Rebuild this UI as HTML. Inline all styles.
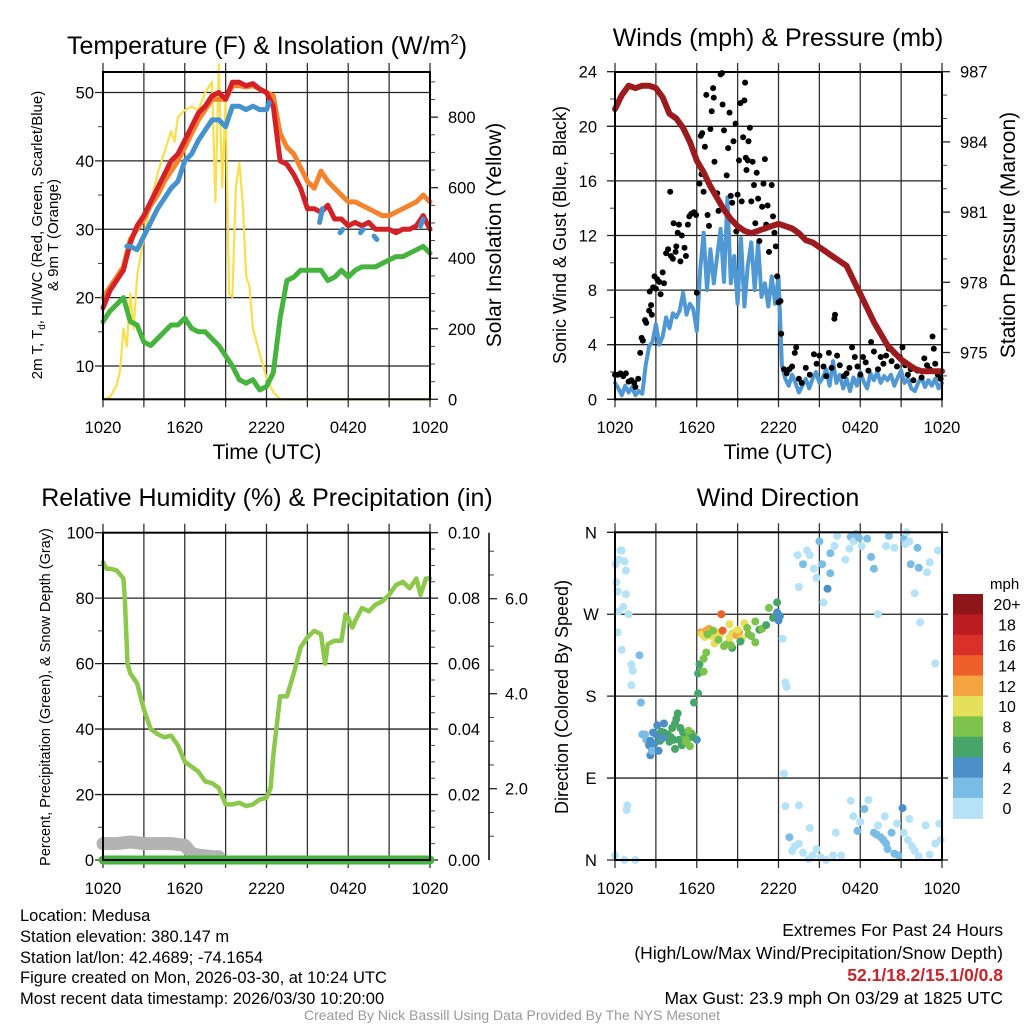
<!DOCTYPE html>
<html><head><meta charset="utf-8"><style>
html,body{margin:0;padding:0;background:#fff}
svg{display:block;font-family:"Liberation Sans",Arial,sans-serif}
</style></head><body>
<svg id="chart" width="1024" height="1024" viewBox="0 0 1024 1024" xmlns="http://www.w3.org/2000/svg">
<rect width="1024" height="1024" fill="#fff"/>
<g id="layer-grid"></g>
<g id="layer-data"></g>
<g id="layer-frame"></g>
<g id="layer-text" fill="#000">
<text x="267" y="54" font-size="25" text-anchor="middle">Temperature (F) &amp; Insolation (W/m<tspan font-size="15" dy="-10">2</tspan><tspan dy="10">)</tspan></text>
<text x="778" y="46" font-size="25" text-anchor="middle">Winds (mph) &amp; Pressure (mb)</text>
<text x="267" y="506" font-size="25" text-anchor="middle">Relative Humidity (%) &amp; Precipitation (in)</text>
<text x="778" y="506" font-size="25" text-anchor="middle">Wind Direction</text>
<text x="267" y="459" font-size="21" text-anchor="middle">Time (UTC)</text>
<text x="778" y="459" font-size="21" text-anchor="middle">Time (UTC)</text>
<text transform="translate(42,235) rotate(-90)" font-size="15" text-anchor="middle">2m T, T<tspan font-size="10" dy="3">d</tspan><tspan dy="-3">, HI/WC (Red, Green, Scarlet/Blue)</tspan></text>
<text transform="translate(58,235) rotate(-90)" font-size="15" text-anchor="middle">&amp; 9m T (Orange)</text>
<text transform="translate(501,235) rotate(-90)" font-size="21" text-anchor="middle">Solar Insolation (Yellow)</text>
<text transform="translate(566,235) rotate(-90)" font-size="18" text-anchor="middle">Sonic Wind &amp; Gust (Blue, Black)</text>
<text transform="translate(1015,235) rotate(-90)" font-size="21" text-anchor="middle">Station Pressure (Maroon)</text>
<text transform="translate(50,697) rotate(-90)" font-size="14.5" text-anchor="middle">Percent, Precipitation (Green), &amp; Snow Depth (Gray)</text>
<text transform="translate(568,697) rotate(-90)" font-size="18" text-anchor="middle">Direction (Colored By Speed)</text>
<text x="990" y="589" font-size="15">mph</text>
<g font-size="16.5">
<text x="20" y="921">Location: Medusa</text>
<text x="20" y="942">Station elevation: 380.147 m</text>
<text x="20" y="963">Station lat/lon: 42.4689; -74.1654</text>
<text x="20" y="983">Figure created on Mon, 2026-03-30, at 10:24 UTC</text>
<text x="20" y="1004">Most recent data timestamp: 2026/03/30 10:20:00</text>
</g>
<g font-size="17.5" text-anchor="end">
<text x="1003" y="936">Extremes For Past 24 Hours</text>
<text x="1003" y="959">(High/Low/Max Wind/Precipitation/Snow Depth)</text>
<text x="1003" y="981" fill="#cc2229" font-weight="bold">52.1/18.2/15.1/0/0.8</text>
<text x="1003" y="1004">Max Gust: 23.9 mph On 03/29 at 1825 UTC</text>
</g>
<text x="512" y="1020" font-size="14" fill="#999" text-anchor="middle">Created By Nick Bassill Using Data Provided By The NYS Mesonet</text>
</g>
</svg>
<script>
// ---------- data ----------
const xTickLabels=["1020","1620","2220","0420","1020"];
const tempHours=[0,0.5,1,1.5,2,2.5,3,3.5,4,4.5,5,5.5,6,6.5,7,7.5,8,8.5,9,9.5,10,10.5,11,11.5,12,12.5,13,13.5,14,14.5,15,15.5,16,16.5,17,17.5,18,18.5,19,19.5,20,20.5,21,21.5,22,22.5,23,23.5,24];
const tempRed=[18.5,21,22.5,24,28,30.5,32,34,36,38,40,41,43,45,47,48,49.5,50,49,51.5,51.5,51,51.3,50.5,50,48,40,39.5,38,36,33,33,32.5,33.5,31.5,31.5,30.5,31,30.5,31,30,30,30,29.5,30,30,30.5,32,30];
const tempOrange=[20,21.5,23,24.5,28.5,30,31.5,33.5,35,37,38.5,40,42,44,46,47.5,49,49,49,51,51,50.8,51,50.5,50,49.5,44,42,41,39,37,36,38.5,37,36,35,34,34,33.5,33,32.5,32,32,32.5,33,33.5,34,35,34];
const tempDew=[16.5,18,19,20,16.5,16,13.5,13,14,15,16,16,17,15.5,15,15,14,13,11.5,10,8,7.5,8,6.5,7,9,17,22.5,23,24,24,24,24,22.5,23,24,23,24,24.5,24.5,24.5,25,25.5,26,26,26.5,27,27.5,26.5];
const hiwcHours=[1.75,2,2.5,3,3.5,4,4.5,5,5.5,6,6.5,7,7.5,8,8.5,9,9.5,10,10.5,11,11.5,12,12.2,12.3,15.9,16.1,16.2,17.4,17.6,17.7,18.9,19.1,19.2,19.9,20.1,20.2,23.3,23.5];
const hiwcValues=[27.5,27.5,27,29,31,33,34.5,36,37,40,41,43,44.5,46,46,45,48,48,47.5,48,47.5,47.5,48.5,null,31,33,null,29.5,30,null,29.5,30,null,29,28.5,null,30.5,31.5];
const solarHours=[0,0.5,1,1.25,1.5,1.75,2,2.25,2.5,3,3.5,4,4.5,5,5.25,5.5,6,6.5,7,7.5,8,8.25,8.5,8.75,9,9.25,9.5,9.75,10,10.25,10.5,10.75,11,11.5,12,12.5,13,18,24];
const solarValues=[0,5,40,80,200,150,300,200,350,460,560,640,700,760,730,800,820,830,820,870,900,560,950,600,850,300,290,600,670,560,350,320,200,130,60,20,0,0,0];
const pressHours=[0,0.5,1,1.5,2,2.5,3,3.5,4,4.5,5,5.5,6,6.5,7,7.5,8,8.5,9,9.5,10,10.5,11,11.5,12,12.5,13,13.5,14,14.5,15,15.5,16,16.5,17,17.5,18,18.5,19,19.5,20,20.5,21,21.5,22,22.5,23,23.5,24];
const pressValues=[985.4,986.0,986.4,986.3,986.4,986.4,986.3,985.9,985.2,985.0,984.6,984.0,983.2,982.7,982.1,981.6,981.1,980.7,980.4,980.2,980.1,980.2,980.3,980.4,980.5,980.4,980.3,980.1,979.8,979.7,979.5,979.3,979.1,978.9,978.7,978.1,977.5,976.9,976.3,975.8,975.3,975.0,974.7,974.5,974.3,974.2,974.2,974.2,974.2];
const windValues=[1.2,0.8,0.3,1.0,0.5,0.9,0.3,0.6,0.4, 2.5,3.9,4.2,5.5,4.0,4.6,6.0,5.2, 6.3,6.0,6.5,7.8,6.2,7.0,6.6,5.0, 9.5,12.2,8.0,11.0,8.5,10.5,12.5,8.6, 14.8,8.5,10.5,7.0,11.8,6.8,9.8,11.5, 8.0,11.5,7.5,8.5,6.8,9.0,7.0,9.0, 2.5,1.5,1.0,1.8,1.2,0.5,1.0,1.5, 0.8,1.5,2.0,1.2,1.6,2.2,1.0,2.8, 1.2,1.8,0.8,1.5,0.6,1.6,1.0,2.0, 1.3,0.8,1.9,1.4,2.0,1.2,1.7,1.4, 1.8,1.0,1.6,2.1,1.2,1.5,0.8,0.6, 1.2,1.6,0.9,1.4,1.0,1.5,0.8,1.2];
const gustHours=[0,0.2,0.4,0.6,0.8,1,1.2,1.4,1.5,1.7,1.85,1.95,2.05,2.2,2.3,2.5,2.55,2.65,2.7,2.8,2.9,3,3.1,3.25,3.35,3.5,3.6,3.75,3.9,4.05,4.1,4.25,4.3,4.45,4.5,4.6,4.7,4.8,4.9,5.1,5.2,5.35,5.45,5.6,5.8,5.95,6,6.2,6.3,6.35,6.4,6.5,6.6,6.7,6.8,6.9,7,7.1,7.2,7.25,7.3,7.5,7.6,7.75,7.85,7.9,8,8.2,8.3,8.4,8.5,8.6,8.7,8.85,8.9,9,9.1,9.2,9.3,9.4,9.5,9.55,9.6,9.65,9.75,9.8,9.9,10,10.1,10.2,10.3,10.4,10.5,10.6,10.8,10.9,11,11.1,11.2,11.3,11.5,11.6,11.7,11.8,11.9,12,12.15,12.2,12.4,12.6,12.8,13,13.2,13.3,13.5,13.7,14,14.3,14.6,14.8,15,15.3,15.5,15.7,15.9,16.1,16.15,16.3,16.5,16.8,17,17.2,17.4,17.6,17.8,18,18.2,18.4,18.6,18.8,19,19.3,19.5,19.7,19.9,20.1,20.3,20.5,20.7,20.9,21.1,21.3,21.5,21.7,21.9,22.2,22.5,22.7,22.9,23.1,23.3,23.4,23.5,23.7,23.9];
const gustValues=[1.8,1.8,1.9,1.7,1.9,1.3,1.4,1.2,0.9,1.5,3.4,4.5,4.3,5.8,5.6,6.5,7.9,6.9,6.2,8.2,9,8.1,8.8,8.6,7.7,9.3,8.5,10.7,11,15.2,10.5,10.3,12.9,10.8,11.2,12.2,12.8,10.1,12,11.1,10.5,12.8,13.4,13.6,13.7,13.5,7.8,15.8,19.3,16.5,19.5,15.2,18.5,22.3,13.5,12.7,19.8,21.1,22.8,22.1,17.4,15.1,13.8,23.8,23.9,21.6,19.7,16.4,18.4,21,14.9,14.4,18.9,20.2,12.3,15,17.5,21.7,14.5,19.2,21.9,23.2,17.7,16.8,17.5,18.9,19.9,14.5,17.4,15.7,12.9,16.6,14.7,11.6,14.1,15.8,17.6,12.8,14.2,10.8,15.7,13.4,12.2,11.2,9,7.1,7.2,4.8,2.2,1.9,2.2,2.4,3.4,3.8,1.5,1.2,2.3,1.8,3.3,2.6,3.2,2.4,1.7,3.4,2.3,5.9,6.2,3.2,2.5,1.7,1.9,2.3,3.8,3.1,2.4,1.8,3.1,2.7,2.1,4.2,3.5,2.2,3.1,2.6,3.2,3.7,2.8,3.4,2.4,3.1,3.8,2.5,1.8,2.2,1.4,2.1,1.6,3,2.5,2.2,4.6,3.7,2.6,1.8,1.5];
const rhHours=[0,0.25,0.5,1,1.5,1.6,1.8,2,2.5,3,3.5,4,4.5,5,5.5,6,6.5,7,7.5,8,8.5,9,9.5,10,10.5,11,11.5,12,12.3,12.5,13,13.5,14,14.5,15,15.5,16,16.3,16.5,17,17.5,17.8,18,18.3,18.5,19,19.5,20,20.5,21,21.5,22,22.5,23,23.3,23.7,24];
const rhValues=[91,89,89,88.5,86,80,60,57,54,46,40,38.5,37.5,38,35,30,28.5,27,24,23.5,22,17,17,17.5,16.5,17,18.5,19,22,32,50,50,57,65,68,70,69,60,66,67,67,75,74,71,73,77,76,78,79,81,84,85,83,86,81,86,86];
const precipHours=[0,24];
const precipValues=[0,0];
const snowHours=[0,1,2,3,4,5,6,6.5,7,8,8.5];
const snowValues=[5,5,5.5,5,5,5,4.5,2,1.5,1,1];
const dirHours=[0.05,0.1,0.2,0.4,0.5,0.7,0.3,0.8,0.6,0.25,0.8,1.0,0.5,0.2,1.2,1.2,1.8,1.9,1.3,0.85,0.9,0.0,0.7,1.5,
2.0,2.2,2.3,2.5,2.6,2.6,2.7,2.8,3.0,3.1,3.3,3.4,3.6,3.8,4.0,4.2,4.3,4.5,4.6,4.4,4.7,4.9,5.1,5.3,5.5,5.6,5.8,6.0,3.2,3.6,3.9,4.8,5.0,5.4,3.5,2.9,4.1,5.2,4.4,5.7,
5.8,6.1,6.1,6.2,6.3,6.5,6.5,6.7,
6.3,6.4,6.6,6.7,6.9,7.0,7.3,7.1,7.8,7.5,7.7,7.9,8.4,8.6,8.0,8.2,8.4,8.6,8.9,9.1,9.3,9.5,9.7,9.8,10.3,10.6,10.8,11.1,11.3,11.6,11.9,12.0,11.9,12.1,10.3,9.2,7.6,8.5,10.0,9.0,7.2,6.8,
12.3,12.5,12.6,12.4,12.5,13.5,13.4,13.8,14.1,14.3,14.6,14.8,15.0,15.2,15.3,15.6,15.8,15.8,16.3,16.1,16.9,17.2,17.3,17.5,17.7,17.9,18.1,18.5,18.8,19.0,19.3,19.9,20.1,20.5,21.2,21.3,21.4,21.6,21.7,22.0,22.2,22.3,22.4,22.9,23.1,23.5,23.7,
12.8,13,13.2,13.5,13.8,14.2,14.5,14.8,15.1,15.5,16.0,17.3,17.5,17.8,18.3,18.6,19.0,19.2,19.3,19.5,19.7,19.9,20.0,20.3,20.5,20.8,21.1,21.2,21.5,21.8,22.0,22.3,22.8,23.1,23.5,23.8,23.9,13.5,14.3,16.6,16.2,20.7,21.6,18.0,19.8];
const dirDegrees=[325,305,295,340,340,328,330,318,278,273,292,270,231,250,192,215,225,173,208,55,60,5,0,0,
138,138,132,126,131,115,120,140,138,148,131,141,150,137,130,145,132,155,161,150,132,126,137,132,125,139,136,132,120,140,138,145,140,142,134,128,135,130,122,135,
173,183,205,215,207,207,221,228,
250,248,245,252,254,250,238,246,270,250,248,252,259,249,235,237,244,233,247,250,243,260,255,248,262,253,254,258,277,266,283,263,272,268,239,240,242,236,246,253,252,248,
243,195,190,95,59,300,335,325,340,335,320,310,350,325,283,298,315,337,356,345,330,342,355,350,358,354,345,353,333,320,270,345,356,343,353,347,360,350,325,293,343,321,261,316,327,216,340,
25,10,15,18,8,1,5,12,3,0,5,65,48,32,56,66,30,28,38,25,22,18,12,30,7,5,57,30,22,15,10,4,38,6,18,40,22,60,35,5,30,40,45,42,48];
const dirSpeeds=[1,1,1,1,1,1,1,1,1,1,1,1,1,1,1,1,2,2,1,1,1,1,1,1,
2,2,3,4,4,4,3,4,4,4,6,6,4,4,6,6,6,7,7,7,6,7,8,8,8,6,8,4,5,7,6,6,7,8,4,5,7,8,6,6,
6,6,6,6,6,8,8,8,
12,10,10,12,12,10,11,10,15,10,10,14,10,10,8,8,10,7,12,12,10,10,8,8,8,7,8,6,8,7,6,4,4,4,8,7,8,8,9,10,9,8,
1,1,1,1,1,1,1,2,1,1,1,1,2,2,1,4,2,2,1,1,1,1,2,1,3,3,1,3,2,2,1,1,3,1,3,1,1,1,2,1,3,3,1,1,1,1,1,
2,1,1,1,1,1,1,1,1,1,1,1,1,2,2,1,3,3,1,2,3,3,3,2,3,2,4,1,1,1,1,1,1,1,1,1,1,1,1,1,1,1,1,1,1];
const speedLabels=["20+","18","16","14","12","10","8","6","4","2","0"];
const speedColors=["#8e1518","#bb1c22","#d9312a","#ef5f2a","#f5a442","#e5e05a","#7cc24b","#48a56a","#4a8fc7","#7bbce4","#b5e2f7"];

// ---------- helpers ----------
const NS="http://www.w3.org/2000/svg";
const TICK_FS=16.5;
const gGrid=document.getElementById('layer-grid'),gData=document.getElementById('layer-data'),gFrame=document.getElementById('layer-frame'),gText=document.getElementById('layer-text');
function lin(d0,d1,r0,r1){return v=>r0+(v-d0)/(d1-d0)*(r1-r0);}
function mk(parent,tag,attrs){const e=document.createElementNS(NS,tag);for(const k in attrs)e.setAttribute(k,attrs[k]);parent.appendChild(e);return e;}
function line(p,x1,y1,x2,y2,col,w){return mk(p,'line',{x1,y1,x2,y2,stroke:col,'stroke-width':w});}
function txt(p,x,y,s,anchor,size){const t=mk(p,'text',{x,y,'font-size':size||TICK_FS,'text-anchor':anchor||'middle'});t.textContent=s;return t;}
function series(hours,vals,X,Y,col,w,name){
  let segs=[],cur=[];
  for(let i=0;i<hours.length;i++){if(vals[i]===null||vals[i]===undefined){if(cur.length)segs.push(cur);cur=[];continue;}cur.push(X(hours[i]).toFixed(1)+','+Y(vals[i]).toFixed(1));}
  if(cur.length)segs.push(cur);
  segs.forEach(s=>{const pl=mk(gData,'polyline',{points:s.join(' '),fill:'none',stroke:col,'stroke-width':w,'stroke-linejoin':'round','stroke-linecap':'round'});
    
    });
}
function panelGrid(x0,x1,yTop,yBot,X,showTimeLabels,labelY){
  for(let h=0;h<=24;h+=3){const x=X(h);line(gGrid,x,yTop-9,x,yBot+8,'#333',1.3);}
  for(let i=0;i<xTickLabels.length;i++){const t=txt(gText,X(i*6),labelY,xTickLabels[i],'middle',TICK_FS);
    
    }
}
function frame(x0,x1,yTop,yBot){const r=mk(gFrame,'rect',{x:x0,y:yTop,width:x1-x0,height:yBot-yTop,fill:'none',stroke:'#000','stroke-width':2});
  
  }
function leftAxis(x0,x1,Y,ticks,labels,minor,labelX){
  ticks.forEach((v,i)=>{const y=Y(v);line(gGrid,x0-8,y,x1,y,'#222',1.3);const t=txt(gText,labelX,y+6,labels[i],'end',TICK_FS);
    
    });
  minor.forEach(v=>line(gGrid,x0-5,Y(v),x0,Y(v),'#444',1));
}
function rightAxis(x,Y,ticks,labels,minor,labelX){
  ticks.forEach((v,i)=>{const y=Y(v);line(gGrid,x,y,x+8,y,'#222',1.3);const t=txt(gText,labelX,y+6,labels[i],'start',TICK_FS);
    
    });
  minor.forEach(v=>line(gGrid,x,Y(v),x+5,Y(v),'#444',1));
}

// ---------- panel 1: temperature ----------
{const X=lin(0,24,103,430),YT=lin(5.13,53,399.3,72),YS=lin(0,928,399.3,72);
panelGrid(103,430,72,399.3,X,true,433);
leftAxis(103,430,YT,[10,20,30,40,50],["10","20","30","40","50"],[15,25,35,45],94);
rightAxis(430,YS,[0,200,400,600,800],["0","200","400","600","800"],[50,100,150,250,300,350,450,500,550,650,700,750,850,900],448);
series(solarHours,solarValues,X,YS,'#f9e04b',2.2,'solar-insolation-line');
series(tempHours,tempDew,X,YT,'#46b33f',5,'dewpoint-line');
series(tempHours,tempOrange,X,YT,'#f4832e',5,'temp-9m-line');
series(tempHours,tempRed,X,YT,'#d42027',5,'temp-2m-line');
series(hiwcHours,hiwcValues,X,YT,'#4692cf',5,'heat-index-line');
frame(103,430,72,399.3);}

// ---------- panel 2: winds ----------
{const X=lin(0,24,615,942),YW=lin(0,24,399.3,71.7),YP=lin(973,987,399.3,71.7);
panelGrid(615,942,72,399.3,X,true,433);
leftAxis(615,942,YW,[0,4,8,12,16,20,24],["0","4","8","12","16","20","24"],[2,6,10,14,18,22],597);
rightAxis(942,YP,[975,978,981,984,987],["975","978","981","984","987"],[974,976,977,979,980,982,983,985,986],960);
const windHours=windValues.map((v,i)=>i*0.25);
series(windHours,windValues,X,YW,'#4f98d3',4,'sonic-wind-line');
gustHours.forEach((h,i)=>{const c=mk(gData,'circle',{cx:X(h).toFixed(1),cy:YW(gustValues[i]).toFixed(1),r:3,fill:'#000'});
  
  });
series(pressHours,pressValues,X,YP,'#9b1b1f',6,'pressure-line');
frame(615,942,72,399.3);}

// ---------- panel 3: humidity ----------
{const X=lin(0,24,103,430),YR=lin(0,100,860,532.7),YPr=lin(0,0.1,860,532.7),YSn=lin(2,6,788.7,598.7);
panelGrid(103,430,532.7,860,X,false,894);
leftAxis(103,430,YR,[0,20,40,60,80,100],["0","20","40","60","80","100"],[10,30,50,70,90],94);
rightAxis(430,YPr,[0,0.02,0.04,0.06,0.08,0.1],["0.00","0.02","0.04","0.06","0.08","0.10"],[0.005,0.01,0.015,0.025,0.03,0.035,0.045,0.05,0.055,0.065,0.07,0.075,0.085,0.09,0.095],448);
line(gFrame,489,532.7,489,860,'#000',1.5);
[2,4,6].forEach(v=>{line(gGrid,489,YSn(v),497,YSn(v),'#222',1.3);const t=txt(gText,505,YSn(v)+6,v.toFixed(1),'start',TICK_FS);
  
  });
[1,1.5,2.5,3,3.5,4.5,5,5.5,6.5,7].forEach(v=>line(gGrid,489,YSn(v),494,YSn(v),'#444',1));
series(snowHours,snowValues,X,YR,'#b3b3b3',13,'snow-depth-line');
series(rhHours,rhValues,X,YR,'#8cc84b',4.5,'humidity-line');
series(precipHours,precipValues,X,YPr,'#46b33f',9,'precipitation-line');
frame(103,430,532.7,860);}

// ---------- panel 4: direction ----------
{const X=lin(0,24,615,942),YD=lin(0,360,860,532.3);
panelGrid(615,942,532.3,860,X,false,894);
[0,90,180,270,360].forEach((v,i)=>{line(gGrid,607,YD(v),942+6,YD(v),'#222',1.3);const t=txt(gText,591,YD(v)+6,["N","E","S","W","N"][i],'middle',TICK_FS);
  
  });
dirHours.forEach((h,i)=>{const idx=Math.min(10,Math.floor((dirSpeeds[i]+0.5)/2));
  const c=mk(gData,'circle',{cx:X(h).toFixed(1),cy:YD(dirDegrees[i]).toFixed(1),r:4,fill:speedColors[10-idx]});
  
  });
frame(615,942,532.3,860);
const cbTop=594,cbH=20.4;
speedLabels.forEach((s,i)=>{const r=mk(gData,'rect',{x:953,y:(cbTop+i*cbH).toFixed(1),width:30,height:(cbH+0.5).toFixed(1),fill:speedColors[i]});
  
  
  const t=txt(gText,1007,cbTop+i*cbH+cbH/2+6,s,'middle',16);
  
  });
}
</script>
</body></html>
